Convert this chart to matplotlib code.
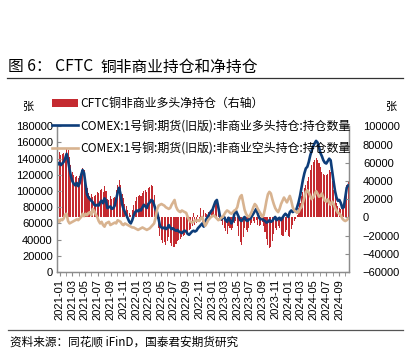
import matplotlib
matplotlib.use("Agg")
import matplotlib.pyplot as plt
import matplotlib.dates as mdates
from matplotlib.ticker import FuncFormatter
import pandas as pd

# ---------------- data (thousand contracts, weekly) ----------------
start_date = "2020-12-22"
n_weeks = 200

long_k = [133, 135, 132, 134, 136, 140, 146, 138, 127, 118,
          112, 109, 107, 110, 106, 110, 120, 126, 122, 108,
          96, 92, 90, 88, 86, 83, 82, 83, 82, 86,
          88, 85, 91, 88, 79, 80, 81, 78, 79, 82,
          90, 98, 104, 96, 84, 78, 74, 70, 66, 62,
          60, 64, 70, 74, 76, 75, 77, 76, 80, 83,
          81, 79, 84, 86, 89, 88, 83, 77, 74, 66,
          57, 55, 54, 55, 53, 54, 58, 55, 53, 54,
          52, 51, 52, 50, 49, 48, 50, 51, 50, 47,
          46, 48, 50, 51, 50, 51, 54, 56, 58, 60,
          56, 62, 66, 69, 72, 75, 77, 82, 87, 89,
          80, 70, 65, 67, 68, 64, 62, 67, 64, 60,
          63, 72, 76, 72, 68, 64, 63, 66, 68, 64,
          63, 65, 66, 69, 72, 75, 78, 72, 67, 65,
          66, 64, 63, 61, 62, 64, 62, 63, 66, 68,
          64, 66, 67, 64, 67, 70, 72, 70, 68, 74,
          76, 74, 76, 75, 80, 86, 94, 104, 114, 122,
          128, 130, 136, 144, 150, 155, 159, 162, 160, 154,
          147, 143, 138, 135, 134, 137, 140, 138, 125, 112,
          100, 92, 88, 89, 85, 79, 80, 92, 104, 107]

short_k = [64, 62, 65, 64, 66, 71, 72, 63, 60, 61,
           62, 63, 64, 65, 64, 66, 68, 72, 69, 72,
           70, 73, 74, 70, 78, 75, 71, 68, 63, 60,
           62, 58, 56, 60, 61, 62, 58, 59, 60, 61,
           60, 64, 63, 62, 59, 58, 60, 59, 58, 57,
           56, 55, 55, 54, 53, 52, 53, 54, 55, 54,
           53, 52, 53, 54, 56, 58, 60, 67, 77, 82,
           83, 84, 83, 82, 80, 79, 78, 79, 83, 86,
           89, 81, 77, 75, 74, 76, 75, 74, 73, 68,
           64, 62, 61, 62, 64, 63, 64, 63, 66, 68,
           62, 57, 60, 64, 66, 68, 69, 70, 68, 66,
           64, 65, 67, 68, 71, 74, 76, 75, 73, 72,
           74, 76, 77, 80, 88, 93, 95, 86, 77, 72,
           69, 68, 71, 75, 80, 84, 82, 78, 75, 72,
           68, 70, 78, 88, 96, 99, 97, 90, 84, 79,
           76, 74, 78, 84, 88, 92, 89, 86, 90, 94,
           88, 80, 76, 75, 73, 74, 78, 80, 86, 92,
           99, 101, 98, 94, 90, 92, 96, 100, 97, 93,
           94, 97, 92, 88, 87, 90, 86, 83, 87, 84,
           79, 76, 73, 72, 70, 66, 64, 63, 64, 66]

net_k = [69, 72, 68, 70, 71, 70, 75, 74, 66, 57,
         50, 46, 44, 45, 43, 45, 51, 54, 52, 40,
         32, 27, 24, 26, 22, 24, 25, 28, 27, 30,
         31, 28, 34, 29, 20, 19, 23, 20, 21, 22,
         30, 36, 41, 35, 26, 21, 15, 12, 8, 5,
         3, 8, 14, 18, 22, 24, 25, 23, 27, 29,
         30, 28, 32, 33, 36, 34, 25, 12, -2, -12,
         -20, -25, -28, -27, -30, -26, -22, -28, -31, -32,
         -33, -29, -26, -25, -24, -22, -20, -19, -18, -16,
         -14, -13, -10, 5, -8, -6, 3, -4, 10, -5,
         8, 5, 4, 6, 5, 6, 7, 12, 18, 20,
         14, 3, -4, -8, -12, -15, -18, -10, -12, -14,
         -12, -6, -4, -10, -20, -27, -30, -22, -12, -14,
         -16, -12, -8, -6, -4, -6, -3, -8, -10, -8,
         -5, -9, -16, -24, -30, -34, -32, -26, -18, -12,
         -14, -10, -12, -19, -20, -21, -16, -14, -20, -22,
         -13, -8, -4, -2, 3, 10, 16, 24, 28, 32,
         36, 40, 44, 52, 58, 61, 63, 65, 63, 60,
         55, 50, 48, 47, 46, 48, 52, 50, 40, 30,
         22, 16, 12, 10, 9, 10, 14, 24, 36, 40]

left_ticks = [0, 20000, 40000, 60000, 80000, 100000, 120000, 140000, 160000, 180000]
right_ticks = [-60000, -40000, -20000, 0, 20000, 40000, 60000, 80000, 100000]

title_head = "图 6： CFTC"
title_tail = "铜非商业持仓和净持仓"
source = "资料来源：同花顺 iFinD，国泰君安期货研究"
label_net = "CFTC铜非商业多头净持仓（右轴）"
label_long = "COMEX:1号铜:期货(旧版):非商业多头持仓:持仓数量"
label_short = "COMEX:1号铜:期货(旧版):非商业空头持仓:持仓数量"
unit = "张"

# ---------------- figure ----------------
CJK = ["Noto Sans CJK SC", "DejaVu Sans"]
NUM = "Liberation Sans"

dates = pd.date_range(start_date, periods=n_weeks, freq="7D")
long_v = [v * 1000 for v in long_k]
short_v = [v * 1000 for v in short_k]
net_v = [v * 1000 for v in net_k]

W, H = 408, 357
fig = plt.figure(figsize=(W / 100, H / 100), dpi=100)
ax = fig.add_axes([57 / W, 1 - 272 / H, (349 - 57) / W, (272 - 126.3) / H])
ax2 = ax.twinx()

bar_color = "#C42A30"
blue = "#0D3D7A"
tan = "#D8B390"

bars = ax2.bar(dates, net_v, width=5, color=bar_color, linewidth=0, label=label_net)
l1, = ax.plot(dates, long_v, color=blue, lw=1.9, label=label_long)
l2, = ax.plot(dates, short_v, color=tan, lw=1.9, label=label_short)

ax.set_zorder(ax2.get_zorder() + 1)
ax.patch.set_visible(False)

ax.set_ylim(0, 180000)
ax2.set_ylim(-60000, 100000)
ax.set_yticks(left_ticks)
ax2.set_yticks(right_ticks)
ax.set_xlim(pd.Timestamp("2020-12-18"), pd.Timestamp("2024-10-19"))

ax.xaxis.set_major_locator(mdates.MonthLocator(bymonth=[1, 3, 5, 7, 9, 11]))
ax.xaxis.set_minor_locator(mdates.MonthLocator())
ax.xaxis.set_major_formatter(mdates.DateFormatter("%Y-%m"))

fmt = FuncFormatter(lambda v, p: ("\u2212" if v < 0 else "") + f"{abs(int(v))}")
ax.yaxis.set_major_formatter(fmt)
ax2.yaxis.set_major_formatter(fmt)

spine_c = "#8C8C8C"
for a in (ax, ax2):
    for s in a.spines.values():
        s.set_color(spine_c)
        s.set_linewidth(0.9)
    a.spines["top"].set_visible(False)

ax.tick_params(axis="y", direction="in", length=3, color=spine_c, pad=3,
               labelsize=8, labelfontfamily=NUM)
ax2.tick_params(axis="y", direction="in", length=3, color=spine_c, pad=10,
                labelsize=8, labelfontfamily=NUM)
ax.tick_params(axis="x", which="both", direction="out", length=3, color=spine_c,
               pad=2, labelsize=8, labelrotation=90, labelfontfamily=NUM)

# legend
fig.legend([bars, l1, l2], [label_net, label_long, label_short],
           loc="upper left", bbox_to_anchor=(52 / W, 1 - 97 / H),
           frameon=False, prop={"family": CJK, "size": 8.6},
           handlelength=2.2, handletextpad=0.2, labelspacing=0.78,
           borderpad=0, borderaxespad=0, handleheight=0.6)

# units
fig.text(22 / W, 1 - 107 / H, unit, fontsize=8, family=CJK, va="center", ha="left")
fig.text(385 / W, 1 - 107 / H, unit, fontsize=8, family=CJK, va="center", ha="left")

# title and source with rules
fig.text(8 / W, 1 - 67 / H, title_head, fontsize=11.3, family=CJK, va="center", ha="left")
fig.text(100 / W, 1 - 67 / H, title_tail, fontsize=11.3, family=CJK, va="center", ha="left")
fig.add_artist(plt.Line2D([7 / W, 403 / W], [1 - 78 / H, 1 - 78 / H], color="#333333", lw=0.9))
fig.add_artist(plt.Line2D([8 / W, 403 / W], [1 - 330 / H, 1 - 330 / H], color="#555555", lw=0.9))
fig.text(10 / W, 1 - 342 / H, source, fontsize=8.4, family=CJK, va="center", ha="left")

fig.savefig("out.png", dpi=100)
